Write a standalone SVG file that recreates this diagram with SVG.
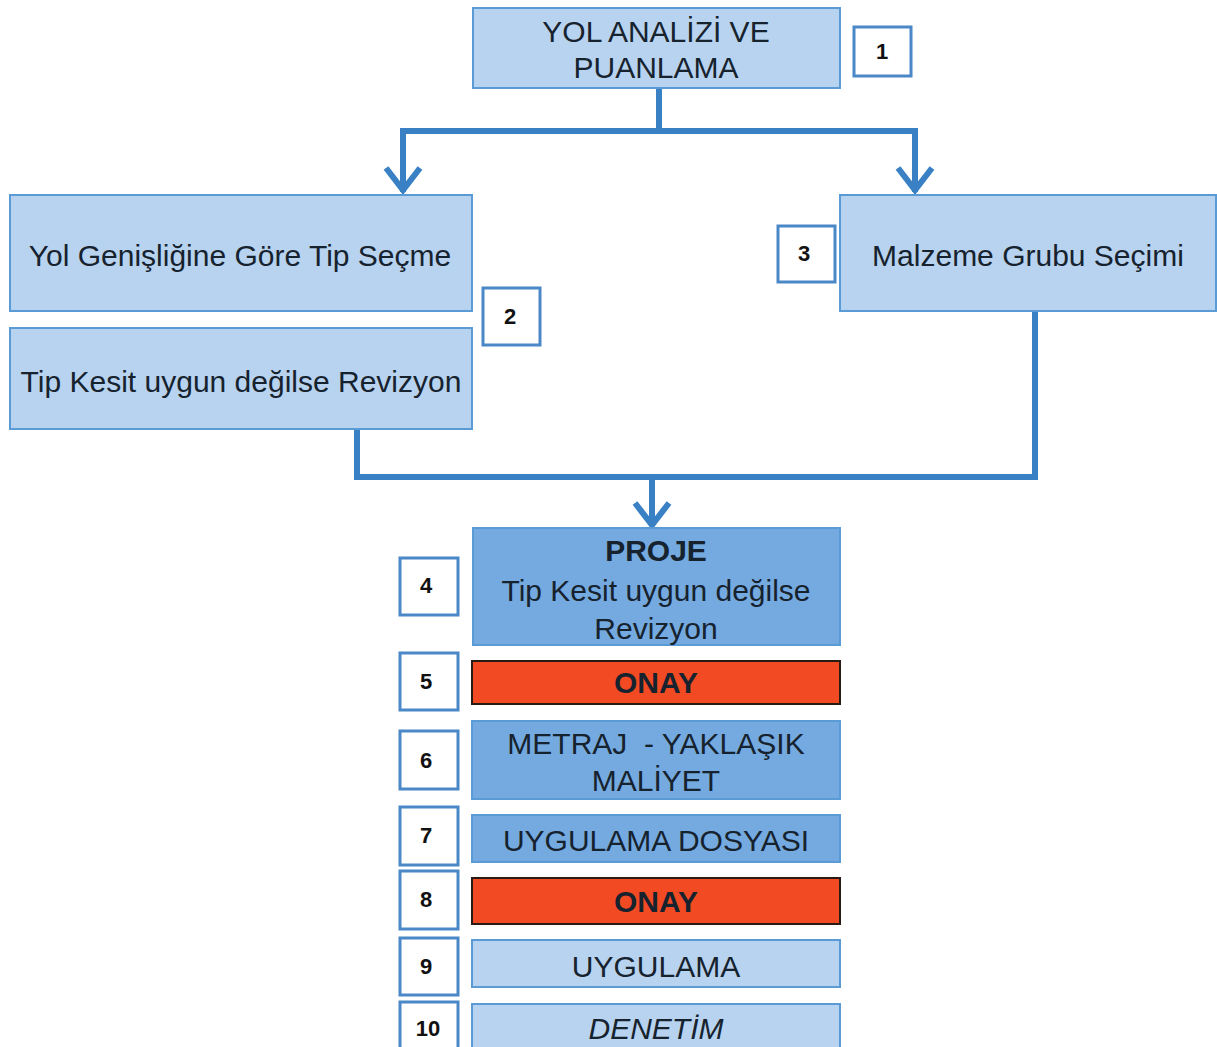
<svg xmlns="http://www.w3.org/2000/svg" width="1217" height="1047" viewBox="0 0 1217 1047">
<defs>
<style>
.lb{fill:#b7d3ef;stroke:#5b9bd5;stroke-width:2}
.db{fill:#74aadf;stroke:#5b9bd5;stroke-width:2}
.rd{fill:#f24a22;stroke:#2a1a14;stroke-width:2}
.bd{fill:#ffffff;stroke:#4a88c8;stroke-width:3}
.t{font-family:"Liberation Sans",Arial,sans-serif;font-size:30px;fill:#16222e;text-anchor:middle;dominant-baseline:central}
.b{font-family:"Liberation Sans",Arial,sans-serif;font-size:22px;font-weight:bold;fill:#111;text-anchor:middle;dominant-baseline:central}
.bold{font-weight:bold}
.con{fill:none;stroke:#3a80c4;stroke-width:6;stroke-linejoin:miter}
</style>
</defs>
<rect width="1217" height="1047" fill="#ffffff"/>
<g id="connectors">
<path class="con" d="M659 88 V131 M403 131 H915 M403 128 V192 M915 128 V192"/>
<path class="con" d="M386 168 L403 190 L420 168 M898 168 L915 190 L932 168"/>
<path class="con" d="M357 429 V477 H1035 V311"/>
<path class="con" d="M652 477 V525 M635 503 L652 525 L669 503"/>
</g>
<g id="n1"><rect class="lb" x="473" y="8" width="367" height="80"/><text class="t" x="656" y="31">YOL ANALİZİ VE</text><text class="t" x="656" y="67">PUANLAMA</text></g>
<g id="b1"><rect class="bd" x="854" y="27" width="57" height="49"/><text class="b" x="882" y="51">1</text></g>
<g id="n2a"><rect class="lb" x="10" y="195" width="462" height="116"/><text class="t" x="240" y="255">Yol Genişliğine Göre Tip Seçme</text></g>
<g id="n2b"><rect class="lb" x="10" y="328" width="462" height="101"/><text class="t" x="241" y="381">Tip Kesit uygun değilse Revizyon</text></g>
<g id="b2"><rect class="bd" x="483" y="288" width="57" height="57"/><text class="b" x="510" y="316">2</text></g>
<g id="n3"><rect class="lb" x="840" y="195" width="376" height="116"/><text class="t" x="1028" y="255">Malzeme Grubu Seçimi</text></g>
<g id="b3"><rect class="bd" x="778" y="226" width="57" height="56"/><text class="b" x="804" y="253">3</text></g>
<g id="n4"><rect class="db" x="473" y="528" width="367" height="117"/><text class="t bold" x="656" y="550">PROJE</text><text class="t" x="656" y="590">Tip Kesit uygun değilse</text><text class="t" x="656" y="628">Revizyon</text></g>
<g id="b4"><rect class="bd" x="400" y="558" width="58" height="57"/><text class="b" x="426" y="585">4</text></g>
<g id="n5"><rect class="rd" x="472" y="661" width="368" height="43"/><text class="t bold" x="656" y="682">ONAY</text></g>
<g id="b5"><rect class="bd" x="400" y="653" width="58" height="57"/><text class="b" x="426" y="681">5</text></g>
<g id="n6"><rect class="db" x="472" y="721" width="368" height="78"/><text class="t" x="656" y="743" xml:space="preserve">METRAJ  - YAKLAŞIK</text><text class="t" x="656" y="780">MALİYET</text></g>
<g id="b6"><rect class="bd" x="400" y="731" width="58" height="58"/><text class="b" x="426" y="760">6</text></g>
<g id="n7"><rect class="db" x="472" y="815" width="368" height="47"/><text class="t" x="656" y="840">UYGULAMA DOSYASI</text></g>
<g id="b7"><rect class="bd" x="400" y="807" width="58" height="58"/><text class="b" x="426" y="835">7</text></g>
<g id="n8"><rect class="rd" x="472" y="878" width="368" height="46"/><text class="t bold" x="656" y="901">ONAY</text></g>
<g id="b8"><rect class="bd" x="400" y="871" width="58" height="58"/><text class="b" x="426" y="899">8</text></g>
<g id="n9"><rect class="lb" x="472" y="940" width="368" height="47"/><text class="t" x="656" y="966">UYGULAMA</text></g>
<g id="b9"><rect class="bd" x="400" y="938" width="58" height="57"/><text class="b" x="426" y="966">9</text></g>
<g id="n10"><rect class="lb" x="472" y="1004" width="368" height="50"/><text class="t" x="656" y="1028" font-style="italic">DENETİM</text></g>
<g id="b10"><rect class="bd" x="400" y="1002" width="58" height="52"/><text class="b" x="428" y="1028">10</text></g>
</svg>
